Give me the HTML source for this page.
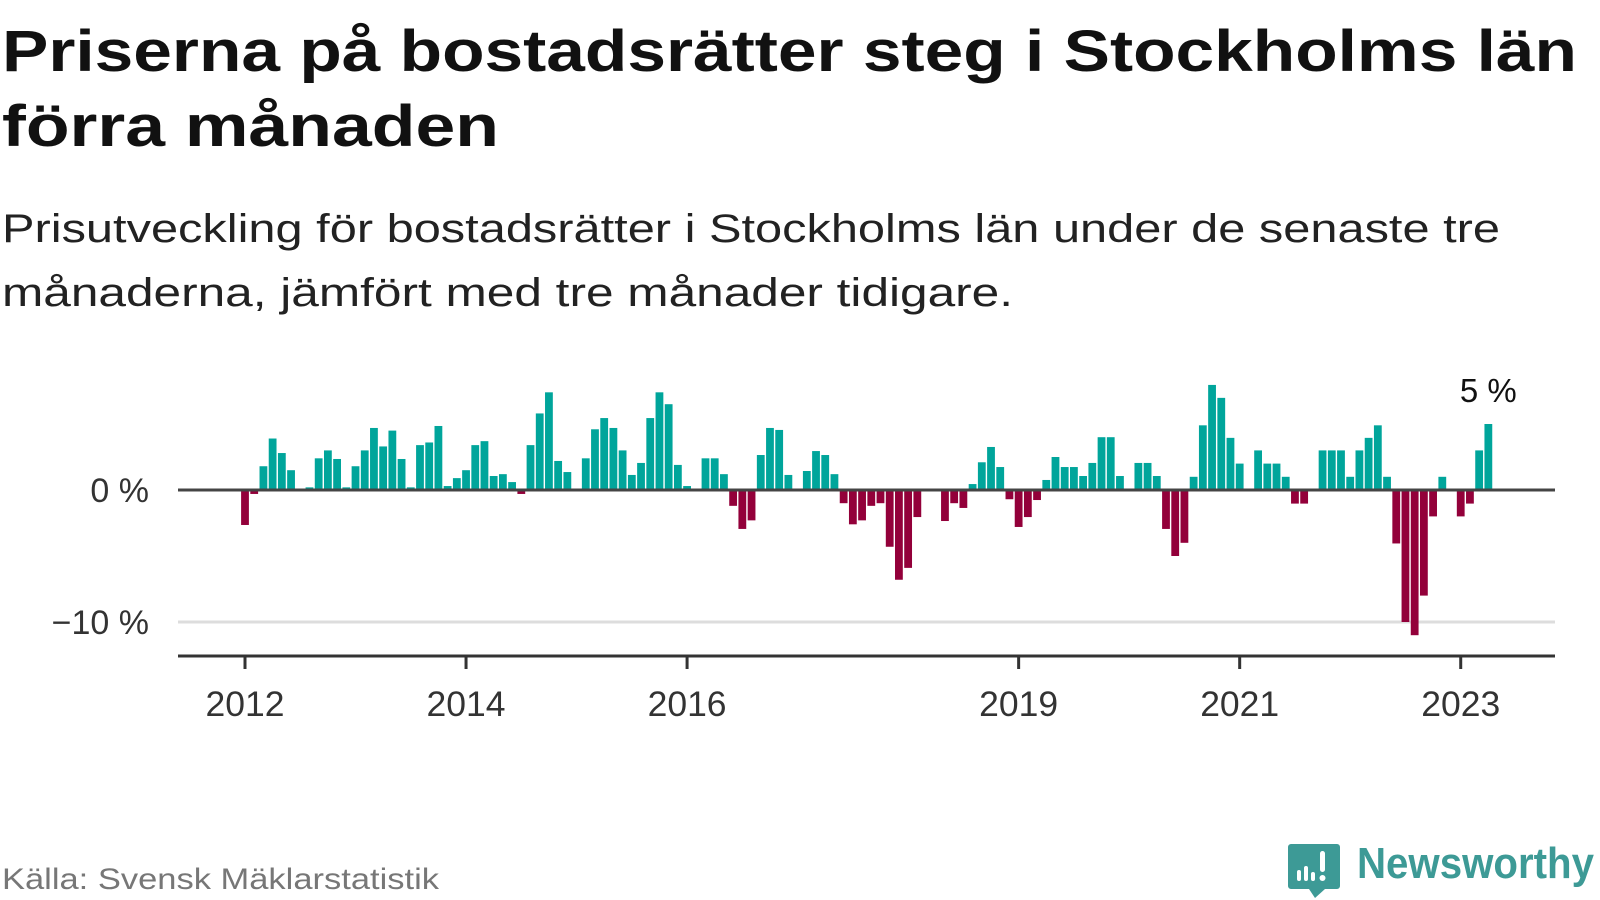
<!DOCTYPE html>
<html><head><meta charset="utf-8">
<style>
html,body{margin:0;padding:0;background:#fff;}
svg{display:block;font-family:"Liberation Sans",sans-serif;}
</style></head>
<body>
<svg id="chart" width="1600" height="900" viewBox="0 0 1600 900" xmlns="http://www.w3.org/2000/svg">
  <text x="2" y="71" font-size="58" font-weight="bold" fill="#111" textLength="1575" lengthAdjust="spacingAndGlyphs">Priserna på bostadsrätter steg i Stockholms län</text>
  <text x="2" y="146" font-size="58" font-weight="bold" fill="#111" textLength="497" lengthAdjust="spacingAndGlyphs">förra månaden</text>
  <text x="2" y="242" font-size="40" fill="#222" textLength="1498" lengthAdjust="spacingAndGlyphs">Prisutveckling för bostadsrätter i Stockholms län under de senaste tre</text>
  <text x="2" y="306" font-size="40" fill="#222" textLength="1011" lengthAdjust="spacingAndGlyphs">månaderna, jämfört med tre månader tidigare.</text>
  <g id="grid"></g>
  <g id="bars"></g>
  <g id="axes"></g>
  <text x="2" y="889" font-size="30" fill="#777" textLength="437" lengthAdjust="spacingAndGlyphs">Källa: Svensk Mäklarstatistik</text>
  <g>
    <path d="M1291 844 h46 a3 3 0 0 1 3 3 v39 a3 3 0 0 1 -3 3 h-12 l-10 9 l-6 -9 h-18 a3 3 0 0 1 -3 -3 v-39 a3 3 0 0 1 3 -3z" fill="#3d9a96"/>
    <rect x="1297" y="870" width="4" height="11" rx="2" fill="#fff"/>
    <rect x="1304" y="866" width="4" height="15" rx="2" fill="#fff"/>
    <rect x="1311" y="872" width="4" height="9" rx="2" fill="#fff"/>
    <rect x="1320" y="851" width="5" height="21" rx="2.5" fill="#fff"/>
    <circle cx="1322.5" cy="878" r="3" fill="#fff"/>
    <text x="1357" y="878" font-size="44" font-weight="bold" fill="#3d9a96" textLength="237" lengthAdjust="spacingAndGlyphs">Newsworthy</text>
  </g>
</svg>
<script>
const startYear = 2012;
const values2012 = [-2.65,-0.3,1.8,3.9,2.8,1.5,0,0.2,2.4,3.0,2.35,0.2];
const values2013 = [1.8,3.0,4.7,3.3,4.5,2.35,0.2,3.4,3.6,4.85,0.3,0.9];
const values2014 = [1.5,3.4,3.7,1.06,1.2,0.6,-0.3,3.4,5.8,7.4,2.2,1.36];
const values2015 = [0,2.4,4.6,5.45,4.7,3.0,1.14,2.05,5.45,7.4,6.5,1.9];
const values2016 = [0.3,0,2.4,2.4,1.2,-1.2,-2.95,-2.3,2.65,4.7,4.55,1.14];
const values2017 = [0,1.44,2.95,2.65,1.2,-1.0,-2.6,-2.3,-1.2,-1.0,-4.3,-6.8];
const values2018 = [-5.9,-2.05,0,0,-2.35,-1.0,-1.36,0.45,2.1,3.26,1.74,-0.7];
const values2019 = [-2.8,-2.05,-0.76,0.76,2.5,1.74,1.74,1.06,2.05,4.0,4.0,1.06];
const values2020 = [0,2.05,2.05,1.06,-2.95,-5.0,-4.0,1.0,4.9,7.96,6.98,3.95];
const values2021 = [2.0,0,3.0,2.0,2.0,1.0,-1.03,-1.03,0,3.0,3.0,3.0];
const values2022 = [1.0,3.0,3.95,4.9,1.0,-4.05,-10.0,-11.0,-8.0,-2.0,1.0,0];
const values2023 = [-2.0,-1.03,3.0,5.0];
const yTicks = [0,-10];
const yTickLabels = ["0 %","\u221210 %"];
const xTickYears = [2012,2014,2016,2019,2021,2023];
const lastLabel = "5 %";

const values = [].concat(values2012,values2013,values2014,values2015,values2016,values2017,values2018,values2019,values2020,values2021,values2022,values2023);
const NS = "http://www.w3.org/2000/svg";
const plotL = 178, plotR = 1555;
function xScale(i){ return 245 + i*9.21; }
function yScale(v){ return 490 - v*13.2; }
function mk(tag, attrs, parent){ const e=document.createElementNS(NS,tag); for(const k in attrs) e.setAttribute(k,attrs[k]); parent.appendChild(e); return e; }

const grid = document.getElementById('grid');
yTicks.forEach((t,i)=>{
  if(t!==0){
    const gl = mk('line',{x1:plotL,x2:plotR,y1:yScale(t),y2:yScale(t),stroke:'#dddddd','stroke-width':3},grid);
    
    
  }
  const lab = mk('text',{x:149,y:yScale(t)+12,'font-size':34,fill:'#333','text-anchor':'end'},grid);
  lab.textContent = yTickLabels[i];
  
  
});

const barsG = document.getElementById('bars');
values.forEach((v,i)=>{
  if(v===0) return;
  const x = xScale(i)-3.9;
  const y0 = yScale(0), y1 = yScale(v);
  const r = mk('rect',{x:x,width:7.8,y:Math.min(y0,y1),height:Math.abs(y1-y0),fill:v>0?'#00a59b':'#93003a'},barsG);
  
  
});

const axes = document.getElementById('axes');
const zl = mk('line',{x1:plotL,x2:plotR,y1:yScale(0),y2:yScale(0),stroke:'#444','stroke-width':3},axes);


const xa = mk('line',{x1:plotL,x2:plotR,y1:656,y2:656,stroke:'#333','stroke-width':3},axes);


xTickYears.forEach(yr=>{
  const x = xScale((yr-startYear)*12);
  const tk = mk('line',{x1:x,x2:x,y1:656,y2:669,stroke:'#333','stroke-width':3},axes);
  
  
  const lb = mk('text',{x:x,y:716,'font-size':35.5,fill:'#333','text-anchor':'middle'},axes);
  lb.textContent = yr;
  
  
});
const li = values.length-1;
const vl = mk('text',{x:xScale(li),y:Math.min(yScale(values[li]),yScale(0))-22,'font-size':33,fill:'#111','text-anchor':'middle'},axes);
vl.textContent = lastLabel;


</script>
</body></html>
